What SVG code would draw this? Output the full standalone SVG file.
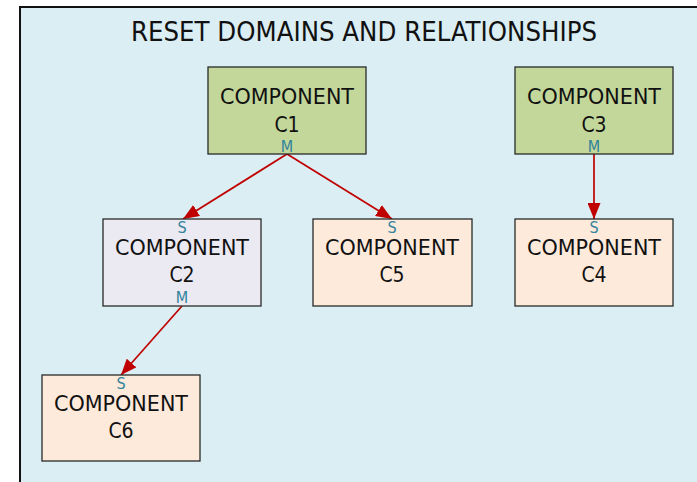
<svg xmlns="http://www.w3.org/2000/svg" width="697" height="482" viewBox="0 0 697 482">
<defs>
<style>
.box{stroke:#2a2a2a;stroke-width:1.3}
.t{font-family:"DejaVu Sans Condensed","DejaVu Sans",sans-serif;font-size:21px;fill:#111;text-anchor:middle}
.p{font-family:"DejaVu Sans Condensed","DejaVu Sans",sans-serif;font-size:16px;fill:#31849b;text-anchor:middle}
.c{stroke:#c00000;stroke-width:1.7;fill:none;marker-end:url(#ah)}
</style>
<marker id="ah" viewBox="0 0 16 13" refX="16" refY="6.5" markerWidth="16" markerHeight="13" markerUnits="userSpaceOnUse" orient="auto">
<path d="M0,0 L16,6.5 L0,13 Z" fill="#c00000"/>
</marker>
</defs>
<rect x="0" y="0" width="697" height="482" fill="#ffffff"/>
<rect x="20" y="7" width="677" height="475" fill="#daeef3"/>
<path d="M20,482 V7 H697" fill="none" stroke="#111" stroke-width="2"/>
<text x="364" y="41" font-family="'DejaVu Sans Condensed','DejaVu Sans',sans-serif" font-size="26" fill="#111" text-anchor="middle" textLength="466" lengthAdjust="spacingAndGlyphs">RESET DOMAINS AND RELATIONSHIPS</text>
<g id="connectors">
<line class="c" x1="287" y1="154" x2="183" y2="219"/>
<line class="c" x1="287" y1="154" x2="392" y2="219"/>
<line class="c" x1="594" y1="154" x2="594" y2="219"/>
<line class="c" x1="182" y1="306" x2="121" y2="375"/>
</g>
<g id="C1">
<rect class="box" x="208" y="67" width="158" height="87" fill="#c4d79b"/>
<text class="t" x="287" y="104" textLength="134" lengthAdjust="spacingAndGlyphs">COMPONENT</text>
<text class="t" x="287" y="132">C1</text>
<text class="p" x="287" y="152">M</text>
</g>
<g id="C3">
<rect class="box" x="515" y="67" width="158" height="87" fill="#c4d79b"/>
<text class="t" x="594" y="104" textLength="134" lengthAdjust="spacingAndGlyphs">COMPONENT</text>
<text class="t" x="594" y="132">C3</text>
<text class="p" x="594" y="152">M</text>
</g>
<g id="C2">
<rect class="box" x="103" y="219" width="158" height="87" fill="#ebe9f1"/>
<text class="p" x="182" y="233">S</text>
<text class="t" x="182" y="255" textLength="134" lengthAdjust="spacingAndGlyphs">COMPONENT</text>
<text class="t" x="182" y="282">C2</text>
<text class="p" x="182" y="303">M</text>
</g>
<g id="C5">
<rect class="box" x="313" y="219" width="159" height="87" fill="#fdeadb"/>
<text class="p" x="392" y="233">S</text>
<text class="t" x="392" y="255" textLength="134" lengthAdjust="spacingAndGlyphs">COMPONENT</text>
<text class="t" x="392" y="282">C5</text>
</g>
<g id="C4">
<rect class="box" x="515" y="219" width="158" height="87" fill="#fdeadb"/>
<text class="p" x="594" y="233">S</text>
<text class="t" x="594" y="255" textLength="134" lengthAdjust="spacingAndGlyphs">COMPONENT</text>
<text class="t" x="594" y="282">C4</text>
</g>
<g id="C6">
<rect class="box" x="42" y="375" width="158" height="86" fill="#fdeadb"/>
<text class="p" x="121" y="389">S</text>
<text class="t" x="121" y="411" textLength="134" lengthAdjust="spacingAndGlyphs">COMPONENT</text>
<text class="t" x="121" y="438">C6</text>
</g>
</svg>
